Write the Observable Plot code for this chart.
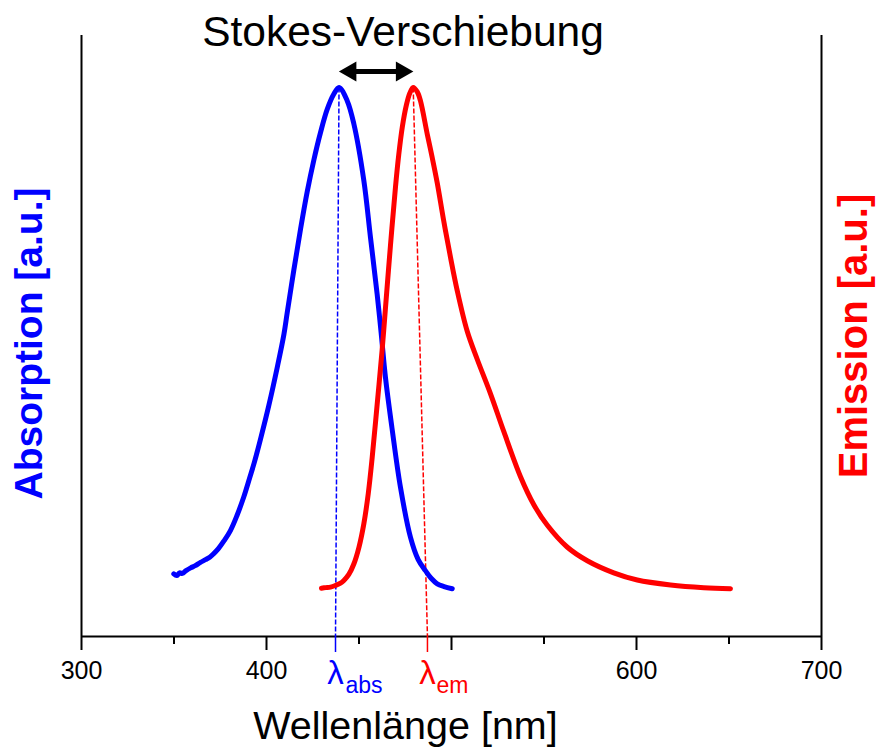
<!DOCTYPE html>
<html>
<head>
<meta charset="utf-8">
<script src="https://cdn.jsdelivr.net/npm/d3@7"></script>
<script src="https://cdn.jsdelivr.net/npm/@observablehq/plot@0.6"></script>
<style>
  body { margin: 0; background: #fff; }
</style>
</head>
<body>
<div id="chart"></div>
<script>
// ---- Data ----
const absWavelength = [349.9, 351.5, 353.0, 354.5, 356.5, 359.0, 361.5, 364.3, 367.0, 369.5, 371.5, 374.0, 377.0, 380.5, 384.0, 387.7, 391.0, 393.5, 396.8, 401.2, 405.8, 409.4, 411.2, 414.8, 418.4, 422.0, 425.6, 429.2, 432.8, 436.4, 439.2, 443.6, 447.2, 452.6, 456.2, 459.8, 462.0, 464.3, 467.9, 472.4, 477.8, 482.0, 485.9, 489.0, 492.3, 496.0, 500.4];
const absIntensity  = [0.114, 0.111, 0.116, 0.115, 0.120, 0.125, 0.129, 0.135, 0.140, 0.145, 0.151, 0.160, 0.174, 0.193, 0.220, 0.254, 0.290, 0.318, 0.360, 0.420, 0.490, 0.550, 0.590, 0.668, 0.742, 0.810, 0.868, 0.918, 0.960, 0.988, 1.000, 0.976, 0.934, 0.831, 0.727, 0.624, 0.552, 0.472, 0.378, 0.272, 0.181, 0.140, 0.120, 0.106, 0.096, 0.091, 0.087];

const emWavelength = [429.7, 432.0, 434.6, 437.3, 440.0, 441.8, 444.5, 447.2, 450.0, 452.6, 455.0, 457.1, 459.8, 462.5, 464.3, 467.0, 469.7, 471.5, 473.4, 475.6, 477.5, 479.3, 481.5, 483.2, 486.9, 489.6, 492.3, 495.8, 499.5, 503.1, 508.5, 513.9, 521.1, 528.3, 537.3, 544.5, 551.7, 562.5, 573.4, 587.7, 600.4, 618.4, 636.4, 650.8];
const emIntensity  = [0.088, 0.089, 0.090, 0.093, 0.097, 0.102, 0.113, 0.132, 0.163, 0.205, 0.260, 0.325, 0.422, 0.522, 0.598, 0.712, 0.818, 0.878, 0.928, 0.968, 0.990, 1.000, 0.992, 0.976, 0.915, 0.872, 0.826, 0.757, 0.690, 0.630, 0.556, 0.505, 0.442, 0.373, 0.291, 0.240, 0.203, 0.163, 0.138, 0.116, 0.103, 0.094, 0.089, 0.087];

const absPeak = [439.2, 1.0];   // top of the λabs marker line
const emPeak  = [479.3, 1.0];   // top of the λem marker line
const absMark = [437.3];        // λabs position on the axis
const emMark  = [487.0];        // λem position on the axis

const xDomain = [300, 700];
const majorTicks = [300, 400, 500, 600, 700];
const labeledTicks = [300, 400, 600, 700];
const minorTicks = [350, 450, 550, 650];

const titleText = ["Stokes-Verschiebung"];
const xLabelText = ["Wellenlänge [nm]"];
const leftLabelText = ["Absorption [a.u.]"];
const rightLabelText = ["Emission [a.u.]"];
const lambdaText = ["λ"];
const absSub = ["abs"];
const emSub = ["em"];

// ---- Build tables ----
const absData = absWavelength.map((w, i) => ({w, v: absIntensity[i]}));
const emData = emWavelength.map((w, i) => ({w, v: emIntensity[i]}));
const markerLines = [
  {x1: absPeak[0], y1: absPeak[1], x2: absMark[0], y2: 0, c: "#0000ff"},
  {x1: emPeak[0], y1: emPeak[1], x2: emMark[0], y2: 0, c: "#ff0000"}
];
const shaft = [{y: absPeak[1], x1: absPeak[0], x2: emPeak[0]}];

const BLUE = "#0000ff", RED = "#ff0000";
const FONT = "'Liberation Sans', Arial, Helvetica, sans-serif";

const chart = Plot.plot({
  width: 876,
  height: 747,
  marginLeft: 81,
  marginRight: 55,
  marginTop: 35,
  marginBottom: 111,
  style: {fontFamily: FONT, fontSize: "25px", background: "#fff", color: "#000", overflow: "visible"},
  x: {domain: xDomain},
  y: {domain: [0, 1.0947], axis: null},
  marks: [
    // frame lines
    Plot.ruleX(xDomain, {stroke: "#000", strokeWidth: 2}),
    Plot.ruleY([0], {stroke: "#000", strokeWidth: 2}),
    // axis ticks
    Plot.axisX(majorTicks, {tickSize: 14, tickPadding: 11, strokeWidth: 2, fontSize: 25,
      tickFormat: d => labeledTicks.includes(d) ? String(d) : ""}),
    Plot.axisX(minorTicks, {tickSize: 8, strokeWidth: 2, tickFormat: () => ""}),
    Plot.axisX(absMark, {tickSize: 16, stroke: BLUE, strokeWidth: 1.5, tickFormat: () => ""}),
    Plot.axisX(emMark, {tickSize: 16, stroke: RED, strokeWidth: 1.5, tickFormat: () => ""}),
    // dashed marker lines
    Plot.link(markerLines, {x1: "x1", y1: "y1", x2: "x2", y2: "y2", stroke: "c",
      strokeWidth: 1.5, strokeDasharray: "5,2"}),
    // curves
    Plot.line(absData, {x: "w", y: "v", stroke: BLUE, strokeWidth: 5, curve: "catmull-rom",
      strokeLinecap: "round", strokeLinejoin: "round"}),
    Plot.line(emData, {x: "w", y: "v", stroke: RED, strokeWidth: 5, curve: "catmull-rom",
      strokeLinecap: "round", strokeLinejoin: "round"}),
    // Stokes shift double arrow
    Plot.ruleY(shaft, {y: "y", x1: "x1", x2: "x2", dy: -16, strokeWidth: 5, stroke: "#000",
      insetLeft: 10, insetRight: 10}),
    Plot.dot([absPeak], {x: d => d[0], y: d => d[1], symbol: "triangle", r: 7.5, rotate: -90,
      dx: 11.5, dy: -16, fill: "#000", stroke: "none"}),
    Plot.dot([emPeak], {x: d => d[0], y: d => d[1], symbol: "triangle", r: 7.5, rotate: 90,
      dx: -11.5, dy: -16, fill: "#000", stroke: "none"}),
    // λ labels
    Plot.text(absMark, {x: d => d, frameAnchor: "bottom", text: () => lambdaText[0], dy: 47,
      fontSize: 33, fill: BLUE, textAnchor: "middle", lineAnchor: "bottom"}),
    Plot.text(absMark, {x: d => d, frameAnchor: "bottom", text: () => absSub[0], dy: 56, dx: 10,
      fontSize: 23, fill: BLUE, textAnchor: "start", lineAnchor: "bottom"}),
    Plot.text(emMark, {x: d => d, frameAnchor: "bottom", text: () => lambdaText[0], dy: 47,
      fontSize: 33, fill: RED, textAnchor: "middle", lineAnchor: "bottom"}),
    Plot.text(emMark, {x: d => d, frameAnchor: "bottom", text: () => emSub[0], dy: 56, dx: 9,
      fontSize: 23, fill: RED, textAnchor: "start", lineAnchor: "bottom"}),
    // titles
    Plot.text(titleText, {text: d => d, frameAnchor: "top", dx: -48.5, dy: 10, fontSize: 42.5,
      textAnchor: "middle", lineAnchor: "bottom", fill: "#000"}),
    Plot.text(xLabelText, {text: d => d, frameAnchor: "bottom", dx: -46, dy: 102, fontSize: 39.5,
      textAnchor: "middle", lineAnchor: "bottom", fill: "#000"}),
    Plot.text(leftLabelText, {text: d => d, frameAnchor: "left", rotate: -90, dx: -40, dy: 7.5,
      fontSize: 39, fontWeight: "bold", fill: BLUE, textAnchor: "middle", lineAnchor: "bottom"}),
    Plot.text(rightLabelText, {text: d => d, frameAnchor: "right", rotate: -90, dx: 45, dy: 0,
      fontSize: 40, fontWeight: "bold", fill: RED, textAnchor: "middle", lineAnchor: "bottom"})
  ]
});
document.getElementById("chart").appendChild(chart);
</script>
</body>
</html>
